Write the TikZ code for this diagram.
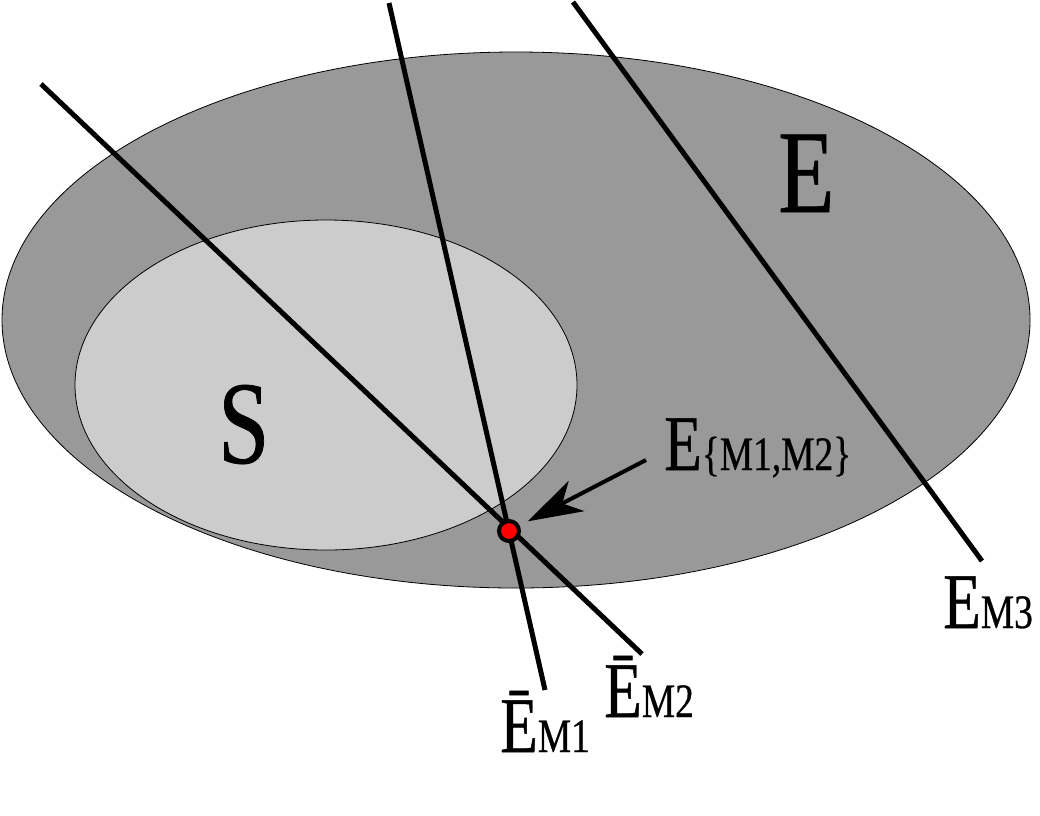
\documentclass[tikz,border=0pt]{standalone}
\usepackage{fontspec}
\setmainfont{Liberation Serif}
\newfontfamily\narrowfont[FakeStretch=0.78,FakeBold=0.6]{Liberation Serif}
\usetikzlibrary{arrows.meta}

\definecolor{outergray}{gray}{0.6}
\definecolor{innergray}{gray}{0.8}
\newcommand{\smallsub}[1]{{\fontsize{48}{50}\selectfont #1}}

\begin{document}
\begin{tikzpicture}[x=1pt,y=-1pt,
  setline/.style={line width=5pt},
  lbl/.style={inner sep=0pt,anchor=base west,font=\narrowfont\fontsize{79}{80}\selectfont},
  biglbl/.style={inner sep=0pt,anchor=base west,font=\narrowfont\fontsize{118}{120}\selectfont}]
  \useasboundingbox (0,0) rectangle (1040,815);
  % the two sets
  \filldraw[fill=outergray,line width=0.8pt] (516,320) ellipse (514 and 268);
  \filldraw[fill=innergray,line width=0.8pt] (326,385) ellipse (251 and 165);
  % the three lines
  \coordinate (m1top) at (389,3);
  \coordinate (m1end) at (545,690);
  \coordinate (m2top) at (41,84);
  \coordinate (m2end) at (642,654);
  \coordinate (m3top) at (573,2);
  \coordinate (m3end) at (982,561);
  \draw[setline] (m1top) -- (m1end);
  \draw[setline] (m2top) -- (m2end);
  \draw[setline] (m3top) -- (m3end);
  \node[circle,fill=red,draw,line width=4pt,minimum size=20pt,inner sep=0pt] (meet) at (509,531) {};
  \coordinate (arrtail) at (646,460);
  \draw[line width=4pt,-{Stealth[length=55pt,width=34pt,inset=16pt]},shorten >=9pt] (arrtail) -- (meet);
  % labels
  \node[biglbl] (lblE) at (778,212) {E};
  \node[biglbl] (lblS) at (218,463) {S};
  \node[lbl] (lblM1) at (500,752) {\=E\smallsub{M1}};
  \node[lbl] (lblM2) at (604,717) {\=E\smallsub{M2}};
  \node[lbl] (lblM3) at (943,628) {E\smallsub{M3}};
  \node[lbl] (lblMM) at (664,470) {E\smallsub{\{M1,M2\}}};
\end{tikzpicture}
\end{document}
